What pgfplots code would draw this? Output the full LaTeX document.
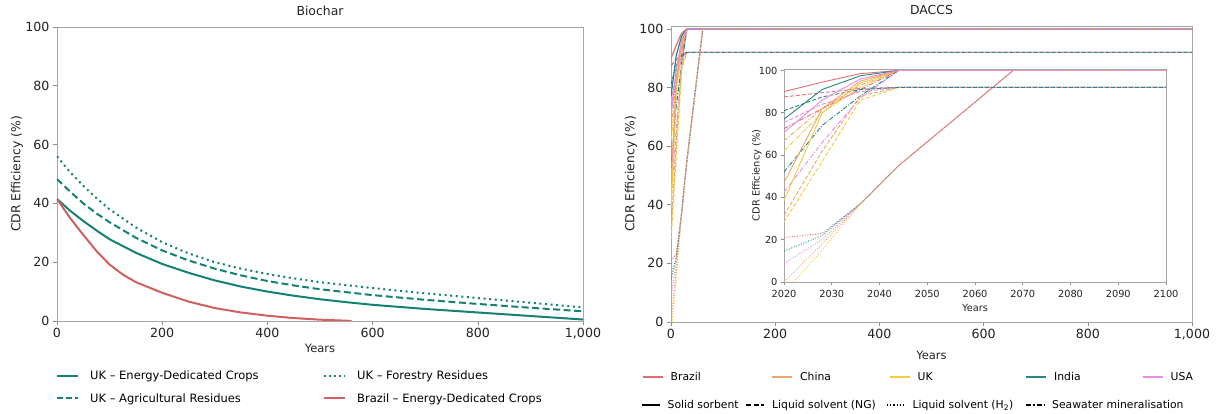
\documentclass[border=0pt]{standalone}
\usepackage{fontspec}
\setmainfont{DejaVu Sans}
\usepackage{pgfplots}
\usepackage{pgfplotstable}
\pgfplotsset{compat=1.18}

\definecolor{teal1}{RGB}{20,130,115}
\definecolor{red1}{RGB}{210,95,95}
\definecolor{cBr}{RGB}{224,110,112}
\definecolor{cCh}{RGB}{240,165,110}
\definecolor{cUK}{RGB}{245,205,60}
\definecolor{cIn}{RGB}{35,135,130}
\definecolor{cUS}{RGB}{232,140,230}
\definecolor{txt}{RGB}{35,35,35}

\newcommand\tickfont{\fontsize{12.6}{14}\selectfont}
\newcommand\labfont{\fontsize{12.4}{14}\selectfont}
\newcommand\legfont{\fontsize{11.5}{14}\selectfont}
\newcommand\legfontr{\fontsize{10.8}{13}\selectfont}
\newcommand\insfont{\fontsize{9.8}{12}\selectfont}

% Biochar series
\pgfplotstableread{
t eff
0 41.5
25 37.5
50 34
75 30.8
100 27.8
150 23.2
200 19.4
250 16.4
300 13.8
350 11.7
400 10
450 8.6
500 7.4
550 6.4
600 5.5
700 4.1
800 2.9
900 1.7
1000 0.5
}\bcEDC
\pgfplotstableread{
t eff
0 48.3
25 44
50 40
75 36.6
100 33.6
150 28.3
200 24
250 20.6
300 17.8
350 15.5
400 13.6
450 12.1
500 10.8
600 8.8
700 7.2
800 5.8
900 4.5
1000 3.3
}\bcAgr
\pgfplotstableread{
t eff
0 56
25 50.6
50 46
75 41.8
100 38
150 31.8
200 26.8
250 23
300 20
350 17.8
400 16
450 14.5
500 13.2
600 11.2
700 9.4
800 7.8
900 6.2
1000 4.6
}\bcFor
\pgfplotstableread{
t eff
0 41.5
25 35
50 29.3
75 23.8
100 19.2
125 15.8
150 13.2
200 9.6
250 6.6
300 4.4
350 2.9
400 1.8
450 1.0
500 0.45
550 0.1
560 0
}\bcBra

% DACCS series (S = solid sorbent, D = liquid solvent NG, H = liquid solvent H2, W = seawater mineralisation)
\pgfplotstableread{
year BrS BrD BrH BrW ChS ChD ChH ChW UKS UKD UKH UKW InS InD InH InW USS USD USH USW
2020 90 87.5 21 72.5 47 31.5 0 66.8 38.6 28.4 nan 62 77 81 14.6 52 70.7 75.4 8.8 42.5
2022 nan nan nan nan nan nan nan nan nan nan 0 nan nan nan nan nan nan nan nan nan
2028 94.5 89.5 23 82 82 62 18 82 80 57 15 80 91 87.5 22 74 86 84 20 66
2036 98.5 91.5 37 91 95 88 37 93 94 86 37 92 97.5 91 37 88 96 90 37 87
2044 100 92 55 100 100 92 55 100 100 92 55 100 100 92 55 100 100 92 55 100
2068 100 92 100 100 100 92 100 100 100 92 100 100 100 92 100 100 100 92 100 100
2808 100 92 100 100 100 92 100 100 100 92 100 100 100 92 100 100 100 92 100 100
}\daccs

\tikzset{
  sS/.style={solid},
  sD/.style={dash pattern=on 4pt off 2pt},
  sH/.style={dash pattern=on 1pt off 1.6pt},
  sW/.style={dash pattern=on 4.5pt off 1.6pt on 1pt off 1.6pt},
}

\newcommand\daccsall[1]{%
  \addplot[cUK,sH] table[#1,y=UKH]{\daccs};
  \addplot[cUS,sH] table[#1,y=USH]{\daccs};
  \addplot[cIn,sH] table[#1,y=InH]{\daccs};
  \addplot[cBr,sH] table[#1,y=BrH]{\daccs};
  \addplot[cUK,sW] table[#1,y=UKW]{\daccs};
  \addplot[cUS,sW] table[#1,y=USW]{\daccs};
  \addplot[cCh,sW] table[#1,y=ChW]{\daccs};
  \addplot[cIn,sW] table[#1,y=InW]{\daccs};
  \addplot[cBr,sW] table[#1,y=BrW]{\daccs};
  \addplot[cUK,sD] table[#1,y=UKD]{\daccs};
  \addplot[cCh,sD] table[#1,y=ChD]{\daccs};
  \addplot[cBr,sD] table[#1,y=BrD]{\daccs};
  \addplot[cUS,sD] table[#1,y=USD]{\daccs};
  \addplot[cIn,sD] table[#1,y=InD]{\daccs};
  \addplot[cUK,sS] table[#1,y=UKS]{\daccs};
  \addplot[cCh,sS] table[#1,y=ChS]{\daccs};
  \addplot[cBr,sS] table[#1,y=BrS]{\daccs};
  \addplot[cIn,sS] table[#1,y=InS]{\daccs};
  \addplot[cUS,sS] table[#1,y=USS]{\daccs};
  \addplot[cCh,sH] table[#1,y=ChH]{\daccs};
}

\pgfplotsset{
  basestyle/.style={
    scale only axis,
    anchor=south west,
    axis line style={black!35, line width=0.8pt},
    tick style={black!45, line width=0.6pt},
    major tick length=4pt,
    tick align=outside,
    xtick pos=left, ytick pos=left,
    /pgf/number format/assume math mode=true,
    tick label style={font=\tickfont, text=txt},
    label style={font=\labfont, text=txt},
    title style={font=\labfont, text=txt},
    unbounded coords=discard,
  },
  legaxis/.style={
    hide axis, scale only axis, at={(0pt,0pt)}, anchor=south west,
    width=1216pt, height=414pt, xmin=0, xmax=1, ymin=0, ymax=1,
  },
}

\begin{document}
\begin{tikzpicture}
\useasboundingbox (0pt,0pt) rectangle (1216pt,414pt);

% ---------------- Biochar ----------------
\begin{axis}[basestyle,
  at={(57pt,93pt)}, width=526pt, height=294pt,
  xmin=0, xmax=1000, ymin=0, ymax=100,
  xtick={0,200,...,1000}, xticklabels={0,200,400,600,800,{1,000}},
  ytick={0,20,...,100},
  title={Biochar},
  title style={at={(0.5,1)}, anchor=south, yshift=2pt},
  xlabel={Years},
  xlabel style={at={(axis description cs:0.5,0)}, anchor=center, yshift=-27pt, font=\fontsize{11.5}{14}\selectfont},
  ylabel={CDR Efficiency (\%)},
  ylabel style={at={(axis description cs:-0.076,0.5)}, anchor=center},
]
\addplot[teal1, line width=2pt, dash pattern=on 2pt off 3.6pt] table[x=t,y=eff]{\bcFor};
\addplot[teal1, line width=2pt, dash pattern=on 7pt off 3.5pt] table[x=t,y=eff]{\bcAgr};
\addplot[teal1, line width=2pt] table[x=t,y=eff]{\bcEDC};
\addplot[red1, line width=2pt] table[x=t,y=eff]{\bcBra};
\end{axis}

% ---------------- DACCS main ----------------
\begin{axis}[basestyle,
  at={(671pt,92pt)}, width=521pt, height=296pt,
  xmin=0, xmax=1000, ymin=0, ymax=101,
  xtick={0,200,...,1000}, xticklabels={0,200,400,600,800,{1,000}},
  ytick={0,20,...,100},
  title={DACCS},
  title style={at={(0.5,1)}, anchor=south, yshift=2pt},
  xlabel={Years},
  xlabel style={at={(axis description cs:0.5,0)}, anchor=center, yshift=-33pt, font=\fontsize{11.5}{14}\selectfont},
  ylabel={CDR Efficiency (\%)},
  ylabel style={at={(axis description cs:-0.077,0.5)}, anchor=center},
  every axis plot/.append style={line width=1.2pt},
]
\daccsall{x expr={(\thisrow{year}-2020)*1.27}}
\end{axis}

% ---------------- DACCS inset ----------------
\begin{axis}[basestyle,
  at={(784pt,132pt)}, width=382pt, height=213pt,
  axis background/.style={fill=white},
  xmin=2020, xmax=2100, ymin=0, ymax=100.7,
  xtick={2020,2030,...,2100}, ytick={0,20,...,100},
  /pgf/number format/1000 sep={},
  tick label style={font=\insfont, text=txt},
  xticklabel style={yshift=-2pt},
  label style={font=\insfont, text=txt},
  major tick length=3pt,
  xlabel={Years},
  xlabel style={at={(axis description cs:0.5,0)}, anchor=center, yshift=-26pt},
  ylabel={CDR Efficiency (\%)},
  ylabel style={at={(axis description cs:-0.071,0.5)}, anchor=center},
  every axis plot/.append style={line width=0.9pt},
]
\daccsall{x=year}
\end{axis}

% ---------------- Legends ----------------
\begin{axis}[legaxis,
  legend columns=2,
  legend style={at={(56/1216,27/414)}, anchor=west, draw=none, fill=none,
    font=\legfont, inner sep=0pt, nodes={inner sep=0pt}, row sep=11pt},
  legend image code/.code={\draw[#1] (0pt,0pt) -- (21pt,0pt);},
  /tikz/every odd column/.append style={column sep=11pt},
]
\addlegendimage{teal1, line width=2pt}
\addlegendentry{\makebox[233pt][l]{\strut UK – Energy-Dedicated Crops}}
\addlegendimage{teal1, line width=2pt, dash pattern=on 2pt off 3pt}
\addlegendentry{\makebox[150pt][l]{\strut UK – Forestry Residues}}
\addlegendimage{teal1, line width=2pt, dash pattern=on 6pt off 3pt}
\addlegendentry{\makebox[233pt][l]{\strut UK – Agricultural Residues}}
\addlegendimage{red1, line width=2pt}
\addlegendentry{\makebox[150pt][l]{\strut Brazil – Energy-Dedicated Crops}}
\end{axis}

\begin{axis}[legaxis,
  legend columns=5,
  legend style={at={(642/1216,37/414)}, anchor=west, draw=none, fill=none,
    font=\legfontr, inner sep=0pt, nodes={inner sep=0pt}},
  legend image code/.code={\draw[#1] (0pt,0pt) -- (20pt,0pt);},
  /tikz/every odd column/.append style={column sep=7pt},
]
\addlegendimage{cBr, line width=1.5pt}
\addlegendentry{\makebox[101pt][l]{\strut Brazil}}
\addlegendimage{cCh, line width=1.5pt}
\addlegendentry{\makebox[89pt][l]{\strut China}}
\addlegendimage{cUK, line width=1.5pt}
\addlegendentry{\makebox[108pt][l]{\strut UK}}
\addlegendimage{cIn, line width=1.5pt}
\addlegendentry{\makebox[88pt][l]{\strut India}}
\addlegendimage{cUS, line width=1.5pt}
\addlegendentry{\makebox[30pt][l]{\strut USA}}
\end{axis}

\begin{axis}[legaxis,
  legend columns=4,
  legend style={at={(641/1216,9/414)}, anchor=west, draw=none, fill=none,
    font=\legfontr, inner sep=0pt, nodes={inner sep=0pt}},
  legend image code/.code={\draw[#1] (0pt,0pt) -- (18pt,0pt);},
  /tikz/every odd column/.append style={column sep=7pt},
]
\addlegendimage{black, line width=1.5pt}
\addlegendentry{\makebox[78pt][l]{\strut Solid sorbent}}
\addlegendimage{black, line width=1.5pt, dash pattern=on 5pt off 2.5pt}
\addlegendentry{\makebox[114pt][l]{\strut Liquid solvent (NG)}}
\addlegendimage{black, line width=1.5pt, dash pattern=on 1.2pt off 2pt}
\addlegendentry{\makebox[113pt][l]{\strut Liquid solvent (H\textsubscript{2})}}
\addlegendimage{black, line width=1.5pt, dash pattern=on 5pt off 2pt on 1.2pt off 2pt}
\addlegendentry{\makebox[150pt][l]{\strut Seawater mineralisation}}
\end{axis}
\end{tikzpicture}
\end{document}
